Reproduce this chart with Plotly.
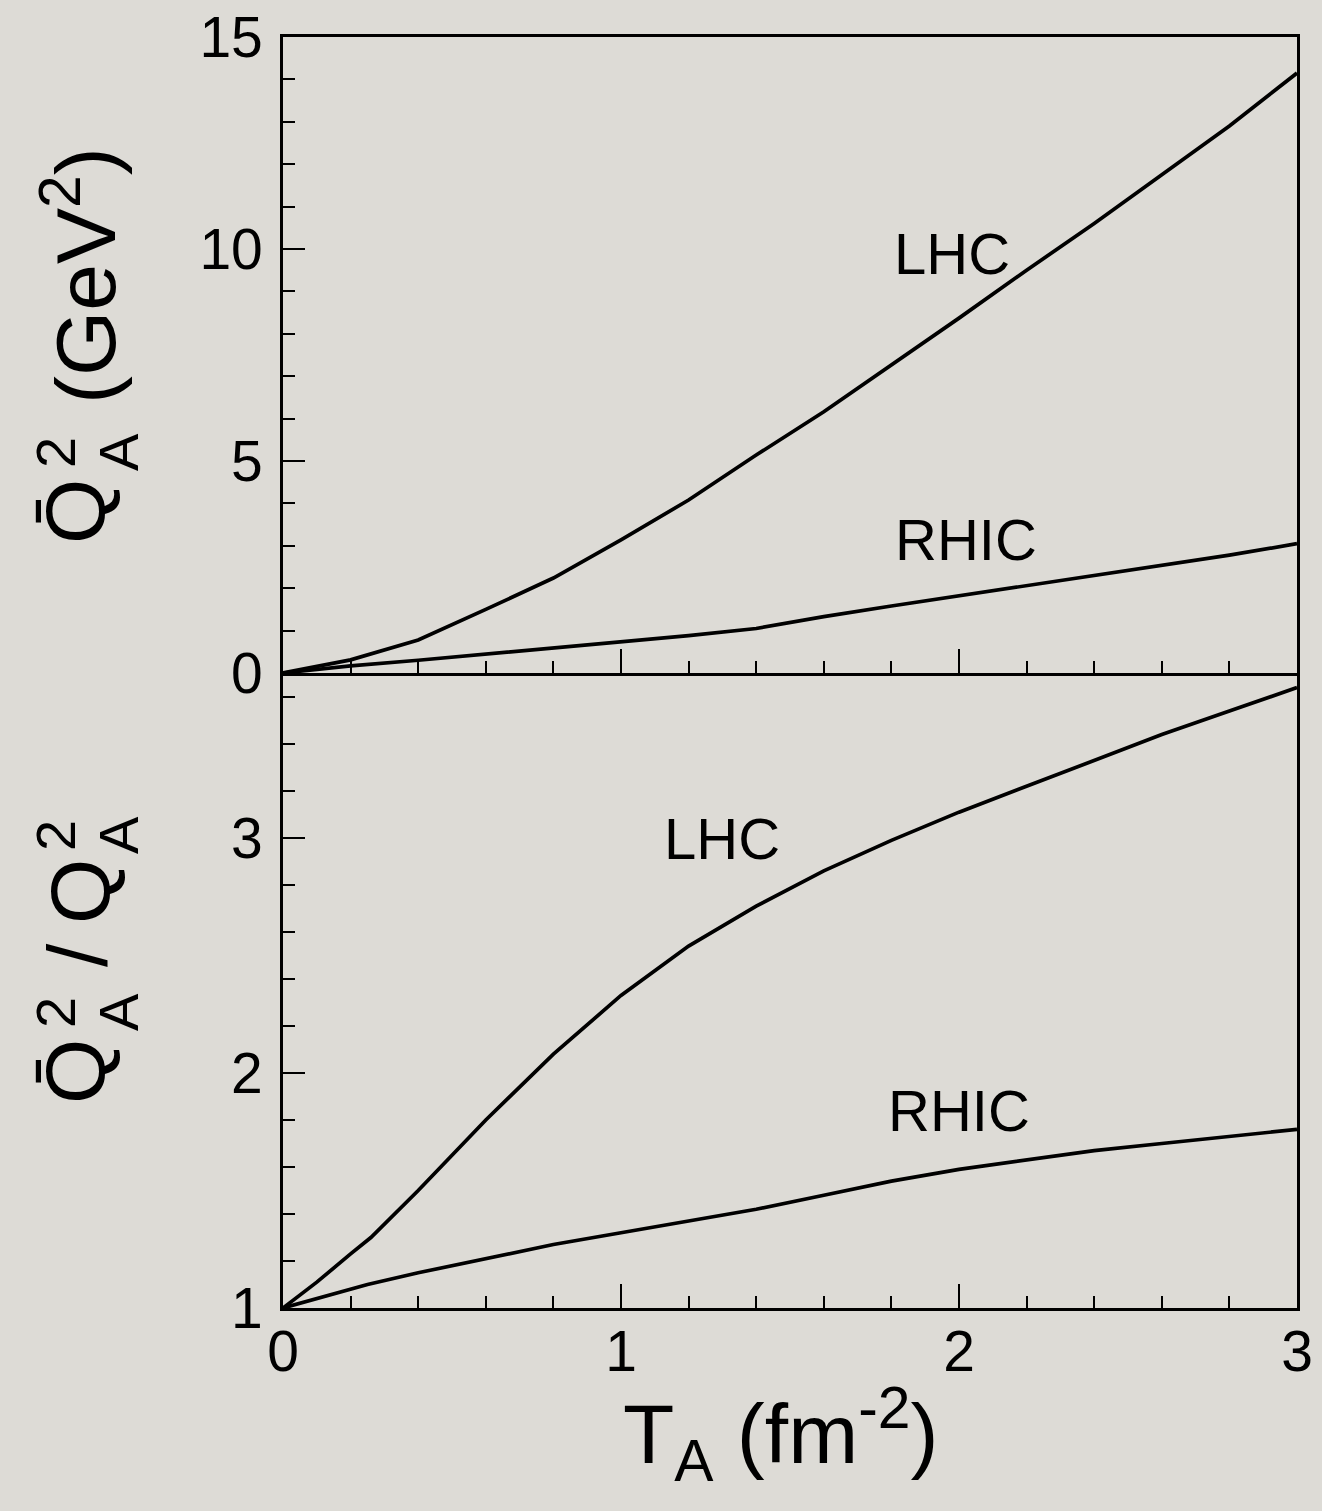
import plotly.graph_objects as go

# ---------------- data ----------------
ta_lhc_top = [0.0, 0.2, 0.4, 0.5, 0.6, 0.8, 1.0, 1.2, 1.4, 1.6, 1.8, 2.0, 2.2, 2.4, 2.6, 2.8, 3.0]
q2bar_lhc = [0.0, 0.31, 0.78, 1.13, 1.50, 2.24, 3.14, 4.08, 5.14, 6.16, 7.26, 8.37, 9.50, 10.60, 11.75, 12.90, 14.15]

ta_rhic_top = [0.0, 0.2, 0.4, 0.6, 0.8, 1.0, 1.2, 1.4, 1.5, 1.6, 1.8, 2.0, 2.2, 2.4, 2.6, 2.8, 3.0]
q2bar_rhic = [0.0, 0.17, 0.30, 0.44, 0.58, 0.72, 0.88, 1.05, 1.20, 1.33, 1.58, 1.82, 2.05, 2.28, 2.52, 2.78, 3.05]

ta_lhc_bot = [0.0, 0.1, 0.2, 0.26, 0.4, 0.5, 0.6, 0.8, 1.0, 1.2, 1.4, 1.6, 1.8, 2.0, 2.2, 2.4, 2.6, 2.8, 3.0]
ratio_lhc = [1.0, 1.11, 1.23, 1.30, 1.50, 1.65, 1.80, 2.08, 2.33, 2.54, 2.71, 2.86, 2.99, 3.11, 3.22, 3.33, 3.44, 3.54, 3.64]

ta_rhic_bot = [0.0, 0.25, 0.4, 0.6, 0.8, 1.0, 1.2, 1.4, 1.6, 1.8, 2.0, 2.2, 2.4, 2.6, 2.8, 3.0]
ratio_rhic = [1.0, 1.10, 1.15, 1.21, 1.27, 1.32, 1.37, 1.42, 1.48, 1.54, 1.59, 1.63, 1.67, 1.70, 1.73, 1.76]

x_ticks = [0, 1, 2, 3]
top_y_ticks = [0, 5, 10, 15]
bot_y_ticks = [1, 2, 3]

curve_labels_top = {"LHC": (1.98, 9.9), "RHIC": (2.02, 3.14)}
curve_labels_bot = {"LHC": (1.30, 3.0), "RHIC": (2.0, 1.84)}

# ---------------- layout helpers ----------------
W, H = 1322, 1511
X0, X1 = 283, 1297
YT0, YT1 = 37, 673
YB1 = 1308
FONT = "Liberation Sans, Arial, Helvetica, sans-serif"
BG = "#dddbd6"
INK = "black"


def px(x):
    return x / W


def py(y):
    return 1 - y / H


fig = go.Figure()
line = dict(color=INK, width=3.7)
fig.add_trace(go.Scatter(x=ta_lhc_top, y=q2bar_lhc, mode="lines", line=line, xaxis="x", yaxis="y"))
fig.add_trace(go.Scatter(x=ta_rhic_top, y=q2bar_rhic, mode="lines", line=line, xaxis="x", yaxis="y"))
fig.add_trace(go.Scatter(x=ta_lhc_bot, y=ratio_lhc, mode="lines", line=line, xaxis="x2", yaxis="y2"))
fig.add_trace(go.Scatter(x=ta_rhic_bot, y=ratio_rhic, mode="lines", line=line, xaxis="x2", yaxis="y2"))

tickfont = dict(family=FONT, size=57, color=INK)
common_x = dict(range=[0, 3], showgrid=False, zeroline=False, showline=True, linecolor=INK, linewidth=2.6,
                ticks="inside", ticklen=24, tickwidth=2.3, tickcolor=INK,
                tickvals=x_ticks, tickfont=tickfont, automargin=False,
                minor=dict(ticks="inside", ticklen=12, tickwidth=2.3, tickcolor=INK, dtick=0.2, showgrid=False),
                domain=[px(X0), px(X1)], fixedrange=True)
common_y = dict(showgrid=False, zeroline=False, showline=True, linecolor=INK, linewidth=2.6,
                mirror=True, ticks="inside", ticklen=22, tickwidth=2.3, tickcolor=INK,
                tickfont=tickfont, ticklabelstandoff=6, automargin=False, fixedrange=True)

fig.update_layout(
    width=W, height=H, margin=dict(l=0, r=0, t=0, b=0, autoexpand=False),
    paper_bgcolor=BG, plot_bgcolor=BG, showlegend=False,
    font=dict(family=FONT, color=INK),
    xaxis=dict(common_x, anchor="y", showticklabels=False, mirror=True),
    yaxis=dict(common_y, anchor="x", range=[0, 15], tickvals=top_y_ticks,
               minor=dict(ticks="inside", ticklen=12, tickwidth=2.3, tickcolor=INK, dtick=1, showgrid=False),
               domain=[py(YT1), py(YT0)]),
    xaxis2=dict(common_x, anchor="y2", showticklabels=True, ticklabelstandoff=-8, mirror=False),
    yaxis2=dict(common_y, anchor="x2", range=[1, 1 + (YB1 - YT1) / 235.0], tickvals=bot_y_ticks,
                minor=dict(ticks="inside", ticklen=12, tickwidth=2.3, tickcolor=INK, dtick=0.2, showgrid=False),
                domain=[py(YB1), py(YT1)]),
)

lab_font = dict(family=FONT, size=58, color=INK)
for name, (xx, yy) in curve_labels_top.items():
    fig.add_annotation(x=xx, y=yy, xref="x", yref="y", text=name, showarrow=False, font=lab_font)
for name, (xx, yy) in curve_labels_bot.items():
    fig.add_annotation(x=xx, y=yy, xref="x2", yref="y2", text=name, showarrow=False, font=lab_font)

# ---------------- axis titles (as real text) ----------------
tf = dict(family=FONT, size=84, color=INK)
sf = dict(family=FONT, size=56, color=INK)

# x title
fig.add_annotation(x=px(780), y=py(1434), xref="paper", yref="paper", showarrow=False,
                   text="T<sub>A</sub> (fm<sup>-2</sup>)", font=tf, xanchor="center", yanchor="middle")


def ytitle_q(ycenter_q, ystack):
    # Q with bar, stacked superscript 2 / subscript A
    fig.add_annotation(x=px(75), y=py(ycenter_q), xref="paper", yref="paper", showarrow=False,
                       text="Q\u0304", font=tf, textangle=-90, xanchor="center", yanchor="middle")
    fig.add_annotation(x=px(55), y=py(ystack), xref="paper", yref="paper", showarrow=False,
                       text="2", font=sf, textangle=-90, xanchor="center", yanchor="middle")
    fig.add_annotation(x=px(118), y=py(ystack), xref="paper", yref="paper", showarrow=False,
                       text="A", font=sf, textangle=-90, xanchor="center", yanchor="middle")


# top y title: Q̄²_A (GeV²)
ytitle_q(512, 452)
fig.add_annotation(x=px(80), y=py(276), xref="paper", yref="paper", showarrow=False,
                   text="(GeV<sup>2</sup>)", font=tf, textangle=-90, xanchor="center", yanchor="middle")

# bottom y title: Q̄²_A / Q²_A
ytitle_q(1072, 1012)
fig.add_annotation(x=px(78), y=py(955), xref="paper", yref="paper", showarrow=False,
                   text="/", font=tf, textangle=-90, xanchor="center", yanchor="middle")
fig.add_annotation(x=px(80), y=py(892), xref="paper", yref="paper", showarrow=False,
                   text="Q", font=tf, textangle=-90, xanchor="center", yanchor="middle")
fig.add_annotation(x=px(55), y=py(835), xref="paper", yref="paper", showarrow=False,
                   text="2", font=sf, textangle=-90, xanchor="center", yanchor="middle")
fig.add_annotation(x=px(118), y=py(835), xref="paper", yref="paper", showarrow=False,
                   text="A", font=sf, textangle=-90, xanchor="center", yanchor="middle")

fig.write_html("out.html")
